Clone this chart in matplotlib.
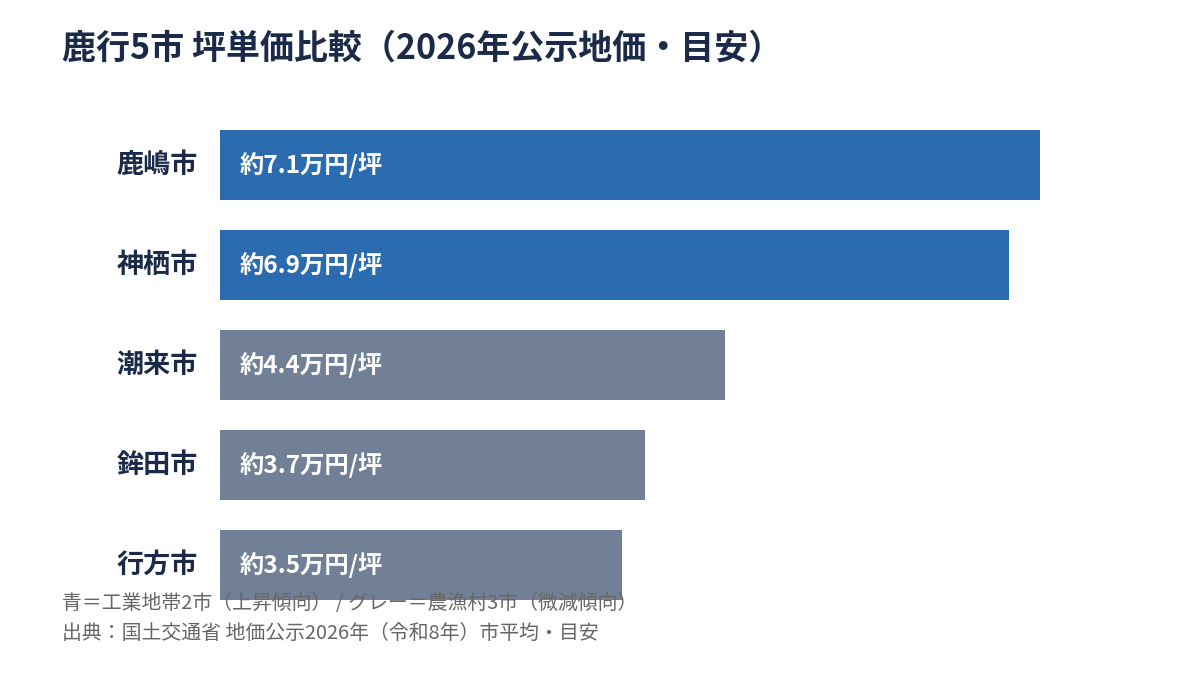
import matplotlib
matplotlib.use("Agg")
import matplotlib.pyplot as plt
from matplotlib.transforms import offset_copy

plt.rcParams['font.family'] = ['Noto Sans CJK JP', 'DejaVu Sans']

cities = ["鹿嶋市", "神栖市", "潮来市", "鉾田市", "行方市"]
values = [7.1, 6.83, 4.37, 3.68, 3.48]
value_labels = ["約7.1万円/坪", "約6.9万円/坪", "約4.4万円/坪", "約3.7万円/坪", "約3.5万円/坪"]
groups = ["工業", "工業", "農漁村", "農漁村", "農漁村"]

title = "鹿行5市 坪単価比較（2026年公示地価・目安）"
note1 = "青＝工業地帯2市（上昇傾向） / グレー＝農漁村3市（微減傾向）"
note2 = "出典：国土交通省 地価公示2026年（令和8年）市平均・目安"

color_map = {"工業": "#2B6CB0", "農漁村": "#718096"}
navy = "#1C2A4A"

W, H = 1200, 675
fig = plt.figure(figsize=(12, 6.75), dpi=100)
fig.patch.set_facecolor("white")

ax_left, ax_right, ax_top, ax_bottom = 220, 1040, 130, 600
ax = fig.add_axes([ax_left / W, 1 - ax_bottom / H, (ax_right - ax_left) / W, (ax_bottom - ax_top) / H])

ypos = list(range(len(cities)))
ax.barh(ypos, values, height=0.7, color=[color_map[g] for g in groups], zorder=2)
ax.set_xlim(0, max(values))
ax.set_ylim(len(cities) - 0.65, -0.35)
ax.axis("off")

lab_tr = offset_copy(ax.get_yaxis_transform(), fig=fig, x=-22, y=0, units="dots")
val_tr = offset_copy(ax.transData, fig=fig, x=20, y=0, units="dots")
for i, (c, lab) in enumerate(zip(cities, value_labels)):
    ax.text(0, i, c, transform=lab_tr, ha="right", va="center",
            fontsize=19.5, fontweight="bold", color=navy)
    ax.text(0, i, lab, transform=val_tr, ha="left", va="center",
            fontsize=17.5, fontweight="bold", color="white", zorder=3)

fig.text(62 / W, 1 - 48 / H, title, ha="left", va="center",
         fontsize=24.5, fontweight="bold", color=navy)
fig.text(62 / W, 1 - 603 / H, note1, ha="left", va="center", fontsize=14.3, color="#666666")
fig.text(62 / W, 1 - 633 / H, note2, ha="left", va="center", fontsize=14.3, color="#666666")

fig.savefig("out.png", dpi=100, facecolor="white")
